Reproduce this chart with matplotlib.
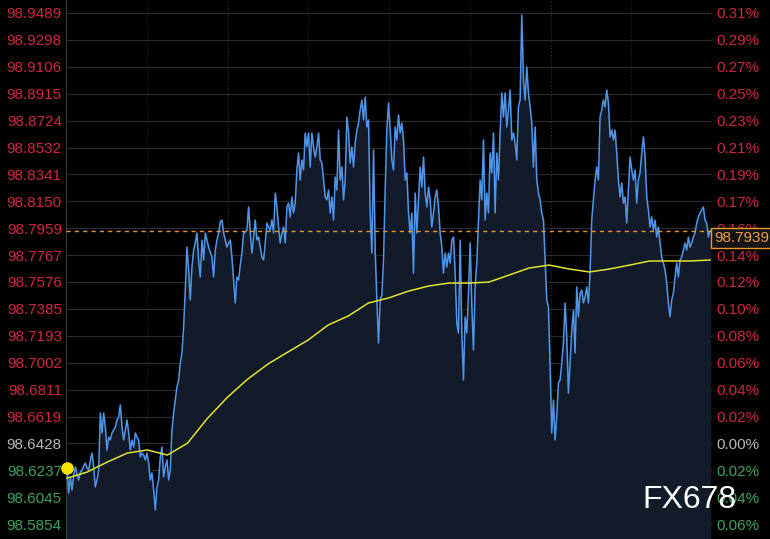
import numpy as np
import matplotlib.pyplot as plt
from matplotlib.transforms import blended_transform_factory

plt.rcParams['font.family'] = ['Liberation Sans', 'DejaVu Sans']

# tick prices in four stretches (left to right)
price_seg1 = [98.6253, 98.6075, 98.6189, 98.6096, 98.6203, 98.6260, 98.6210, 98.6167, 98.6224, 98.6238,
              98.6267, 98.6288, 98.6253, 98.6238, 98.6310, 98.6359, 98.6260, 98.6118, 98.6167, 98.6238,
              98.6644, 98.6502, 98.6644, 98.6544, 98.6381, 98.6473, 98.6452, 98.6502, 98.6523, 98.6544,
              98.6594, 98.6615, 98.6701, 98.6544, 98.6452, 98.6523, 98.6594, 98.6502, 98.6381, 98.6452,
              98.6402, 98.6502, 98.6473, 98.6452, 98.6331, 98.6359, 98.6345, 98.6310, 98.6359, 98.6288,
              98.6167, 98.6217, 98.6096, 98.5954, 98.6118, 98.6167, 98.6331, 98.6402, 98.6189, 98.6260,
              98.6310, 98.6167, 98.6238, 98.6523, 98.6644, 98.6736, 98.6829, 98.6878, 98.6999, 98.7071,
              98.7255, 98.7519, 98.7824, 98.7661, 98.7447, 98.7682, 98.7803, 98.7853, 98.7924, 98.7732,
              98.7611, 98.7874, 98.7732, 98.7924, 98.7874, 98.7824, 98.7789, 98.7753, 98.7611, 98.7803,
              98.7874, 98.7924, 98.8002, 98.8016, 98.7924, 98.7874, 98.7824, 98.7853, 98.7874]
price_seg2 = [98.7753, 98.7590, 98.7426, 98.7611, 98.7590, 98.7696, 98.7782, 98.7924, 98.7931, 98.7945,
              98.8109, 98.7924, 98.7782, 98.7895, 98.8016, 98.7874, 98.7895, 98.7824, 98.7753, 98.7732,
              98.7853, 98.7995, 98.7967, 98.7945, 98.8016, 98.7924, 98.8208, 98.8109, 98.7967, 98.7853,
              98.7924, 98.7967, 98.7853, 98.8109, 98.8137, 98.8038, 98.8180, 98.8066, 98.8137, 98.8372,
              98.8493, 98.8301, 98.8443, 98.8372, 98.8635, 98.8536, 98.8635, 98.8393, 98.8635, 98.8536,
              98.8464, 98.8536, 98.8635, 98.8443, 98.8422, 98.8301, 98.8180, 98.8159, 98.8230, 98.8066,
              98.8180, 98.8016, 98.8322, 98.8230, 98.8656, 98.8301, 98.8393, 98.8159, 98.8301, 98.8749,
              98.8635, 98.8422, 98.8536, 98.8393, 98.8564, 98.8656, 98.8706, 98.8799, 98.8870, 98.8728,
              98.8891, 98.8678, 98.8728, 98.8066, 98.7782, 98.8514, 98.7803, 98.7447, 98.7142, 98.7447,
              98.7483, 98.7732, 98.8230, 98.8656, 98.8849, 98.8656, 98.8443, 98.8372]
price_seg3 = [98.8678, 98.8585, 98.8763, 98.8635, 98.8706, 98.8585, 98.8301, 98.8351, 98.8066, 98.7924,
              98.8066, 98.7639, 98.8208, 98.7924, 98.8159, 98.8393, 98.8251, 98.8464, 98.8208, 98.8109,
              98.8251, 98.8159, 98.7967, 98.8066, 98.8180, 98.8230, 98.8109, 98.7924, 98.7824, 98.7639,
              98.7782, 98.7682, 98.7782, 98.7711, 98.7874, 98.7895, 98.7639, 98.7284, 98.7213, 98.7874,
              98.7213, 98.6878, 98.7327, 98.7213, 98.7497, 98.7853, 98.7412, 98.7092, 98.7540, 98.7711,
              98.8016, 98.8301, 98.8159, 98.8585, 98.8016, 98.8208, 98.8066, 98.8493, 98.8351, 98.8635,
              98.8066, 98.8493, 98.8301, 98.8635, 98.8920, 98.8749, 98.8920, 98.8678, 98.8799, 98.8941,
              98.8585, 98.8635, 98.8564, 98.8443, 98.8820, 98.8870, 98.9474, 98.9012, 98.8870, 98.9105,
              98.8920, 98.8820, 98.8706, 98.8393, 98.8678, 98.8301, 98.8208, 98.8159, 98.8066, 98.8016,
              98.7732, 98.7447, 98.7398, 98.6971, 98.6502, 98.6736, 98.6452, 98.6615, 98.6857]
price_seg4 = [98.6878, 98.6999, 98.7142, 98.7426, 98.7184, 98.6786, 98.6999, 98.7234, 98.7376, 98.7071,
              98.7540, 98.7327, 98.7497, 98.7519, 98.7426, 98.7469, 98.7540, 98.7426, 98.7639, 98.8016,
              98.8159, 98.8301, 98.8393, 98.8301, 98.8749, 98.8799, 98.8870, 98.8820, 98.8941, 98.8849,
              98.8607, 98.8656, 98.8585, 98.8656, 98.8493, 98.8301, 98.8180, 98.8280, 98.8137, 98.8180,
              98.7995, 98.8230, 98.8464, 98.8372, 98.8301, 98.8372, 98.8137, 98.8301, 98.8351, 98.8493,
              98.8607, 98.8464, 98.8180, 98.8088, 98.7967, 98.8038, 98.7945, 98.8016, 98.7895, 98.7967,
              98.7853, 98.7753, 98.7711, 98.7661, 98.7568, 98.7426, 98.7327, 98.7447, 98.7497, 98.7611,
              98.7711, 98.7611, 98.7732, 98.7753, 98.7803, 98.7853, 98.7803, 98.7895, 98.7824, 98.7853,
              98.7895, 98.7924, 98.7995, 98.8038, 98.8066, 98.8088, 98.8109, 98.8016, 98.7995, 98.7895,
              98.7939]

# yellow moving average, sampled evenly across the session
ma_line = [98.6181, 98.6224, 98.6295, 98.6359, 98.6381, 98.6345, 98.6430, 98.6608, 98.6758, 98.6886,
           98.6992, 98.7078, 98.7163, 98.7270, 98.7334, 98.7426, 98.7462, 98.7511, 98.7547, 98.7568,
           98.7568, 98.7575, 98.7625, 98.7675, 98.7696, 98.7668, 98.7647, 98.7668, 98.7696, 98.7725,
           98.7725, 98.7725, 98.7732]

left_labels = ['98.9489', '98.9298', '98.9106', '98.8915', '98.8724', '98.8532', '98.8341',
               '98.8150', '98.7959', '98.7767', '98.7576', '98.7385', '98.7193', '98.7002',
               '98.6811', '98.6619', '98.6428', '98.6237', '98.6045', '98.5854']
right_labels = ['0.31%', '0.29%', '0.27%', '0.25%', '0.23%', '0.21%', '0.19%', '0.17%', '0.16%',
                '0.14%', '0.12%', '0.10%', '0.08%', '0.06%', '0.04%', '0.02%', '0.00%',
                '0.02%', '0.04%', '0.06%']
base_price = 98.6428
last_label = '98.7939'

RED = '#d0283e'
GREEN = '#3da35d'
GREY = '#b8b8b8'
BLUE = '#4f95e8'
YELLOW = '#e2e32e'
ORANGE = '#e8962e'

prices = np.array(price_seg1 + price_seg2 + price_seg3 + price_seg4)
t = np.arange(len(prices))
tick_vals = [float(s) for s in left_labels]

fig = plt.figure(figsize=(7.7, 5.39), dpi=100, facecolor='black')
ax = fig.add_axes([66 / 770, 0, 646 / 770, 1])
ax.set_facecolor('black')

ylo, yhi = 98.5748, 98.9581
ax.set_ylim(ylo, yhi)
ax.set_xlim(-0.6, len(prices) - 1 + 1.2)

# grid
for v in tick_vals:
    ax.axhline(v, color='#282c33', lw=0.8, zorder=0)
for i, gx in enumerate(np.linspace(*ax.get_xlim(), 9)[1:-1]):
    strong = i in (1, 5)
    ax.axvline(gx, color='#30353e' if strong else '#24282f', lw=0.8,
               ls=(0, (1, 2)), zorder=0)

# price area + line
ax.fill_between(t, prices, ylo, color='#131b2a', zorder=1)
ax.plot(t, prices, color=BLUE, lw=1.1, zorder=3)

# moving average
ax.plot(np.linspace(0, len(prices) - 1, len(ma_line)), ma_line, color=YELLOW, lw=1.1, zorder=4)

# open marker and last-price line
ax.plot([0], [prices[0]], 'o', color='#f5e400', ms=8, zorder=6, clip_on=False)
ax.axhline(prices[-1], color=ORANGE, lw=1.0, ls=(0, (3, 3)), zorder=5)

for sp in ax.spines.values():
    sp.set_visible(False)
ax.axvline(ax.get_xlim()[0], color='#3a3a3a', lw=0.8)
ax.axvline(ax.get_xlim()[1], color='#3a2a2e', lw=0.8)

ax.set_xticks([])
ax.set_yticks(tick_vals)
ax.set_yticklabels(left_labels, fontsize=11)
ax.tick_params(axis='y', length=0, pad=3)

ax2 = ax.twinx()
ax2.set_ylim(ylo, yhi)
ax2.set_yticks(tick_vals)
ax2.set_yticklabels(right_labels, fontsize=11)
ax2.tick_params(axis='y', length=0, pad=3)
for sp in ax2.spines.values():
    sp.set_visible(False)


def colour(v):
    if abs(v - base_price) < 1e-4:
        return GREY
    return RED if v > base_price else GREEN


for lab, v in zip(ax.get_yticklabels(), tick_vals):
    lab.set_color(colour(v))
for lab, v in zip(ax2.get_yticklabels(), tick_vals):
    lab.set_color(colour(v))

# last price tag
tr = blended_transform_factory(ax.transAxes, ax.transData)
ax2.text(1.003, prices[-1], last_label, transform=tr, fontsize=11, color='#f0a040',
         va='top', ha='left', zorder=10,
         bbox=dict(boxstyle='square,pad=0.2', fc='#141414', ec=ORANGE, lw=1.0))

# watermark
fig.text(0.896, 0.072, 'FX678', fontsize=23, color='white', ha='center', va='center')

fig.savefig('out.png', dpi=100, facecolor='black')
